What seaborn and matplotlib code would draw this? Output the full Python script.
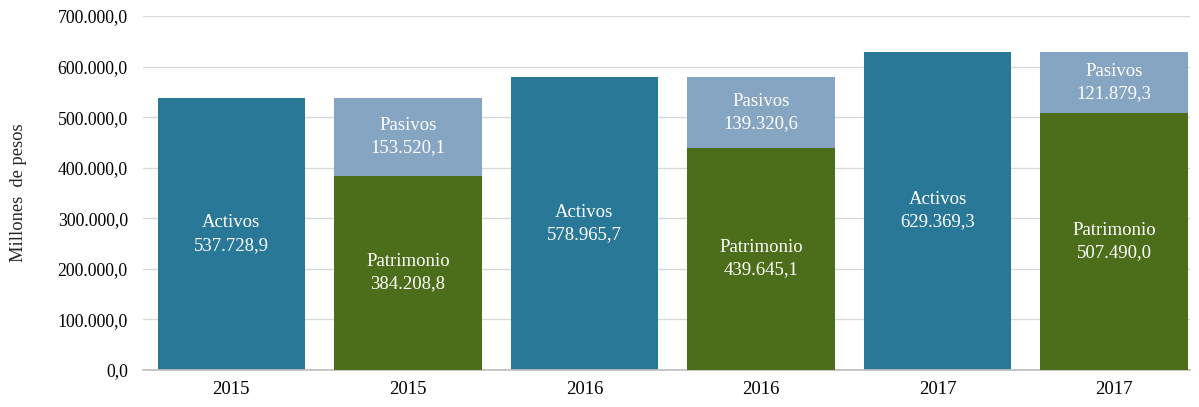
import matplotlib
matplotlib.use("Agg")
import matplotlib.pyplot as plt
import seaborn as sns
import pandas as pd

years = ["2015", "2015", "2016", "2016", "2017", "2017"]
activos = [537728.9, 578965.7, 629369.3]
pasivos = [153520.1, 139320.6, 121879.3]
patrimonio = [384208.8, 439645.1, 507490.0]
yticks = [0, 100000, 200000, 300000, 400000, 500000, 600000, 700000]

C_ACT = "#2a7898"
C_PAS = "#86a5c2"
C_PAT = "#4c6e1a"

def fmt(v):
    s = f"{v:,.1f}"
    return s.replace(",", "X").replace(".", ",").replace("X", ".")

keys = [f"k{i}" for i in range(6)]
totals, bottoms, top_colors = [], [], []
for i in range(3):
    totals += [activos[i], patrimonio[i] + pasivos[i]]
    bottoms += [0.0, patrimonio[i]]
    top_colors += [C_ACT, C_PAS]

df = pd.DataFrame({"key": keys, "total": totals, "bottom": bottoms})

sns.set_theme(style="white")
plt.rcParams["font.family"] = ["Liberation Serif", "DejaVu Serif"]

fig = plt.figure(figsize=(11.99, 4.07), dpi=100)
ax = fig.add_axes([0.1193, 0.0909, 0.8732, 0.8698])

sns.barplot(data=df, x="key", y="total", hue="key", palette=top_colors,
            order=keys, width=0.835, legend=False, ax=ax, zorder=2)
sns.barplot(data=df, x="key", y="bottom", color=C_PAT, order=keys,
            width=0.835, ax=ax, zorder=3, saturation=1)
for p in ax.patches:
    p.set_edgecolor("none")
for p, c in zip(ax.patches[:6], top_colors):
    p.set_facecolor(c)
for p in ax.patches[6:]:
    p.set_facecolor(C_PAT)

ax.set_ylim(0, 700000)
ax.set_xlim(-0.5, 5.43)
ax.set_yticks(yticks)
ax.set_yticklabels([fmt(v) for v in yticks], fontsize=12.8)
ax.set_xticks(range(6))
ax.set_xticklabels(years, fontsize=13.5)
ax.set_xlabel("")
ax.set_ylabel("Millones  de pesos", fontsize=13.3)
ax.yaxis.set_label_coords(-0.111, 0.5)
ax.yaxis.grid(True, color="#d9d9d9", linewidth=1, zorder=0)
ax.set_axisbelow(True)
for s in ["top", "right", "left"]:
    ax.spines[s].set_visible(False)
ax.spines["bottom"].set_color("#bfbfbf")
ax.tick_params(axis="y", length=0, pad=11, colors="black")
ax.tick_params(axis="x", length=0, pad=8, colors="black")

tk = dict(ha="center", va="center", color="white", fontsize=13.5, zorder=5, linespacing=1.4)
for i in range(3):
    xa, xs = 2 * i, 2 * i + 1
    ax.text(xa, activos[i] / 2, f"Activos\n{fmt(activos[i])}", **tk)
    ax.text(xs, patrimonio[i] + pasivos[i] / 2, f"Pasivos\n{fmt(pasivos[i])}", **tk)
    ax.text(xs, patrimonio[i] / 2, f"Patrimonio\n{fmt(patrimonio[i])}", **tk)

fig.savefig("out.png", dpi=100)
